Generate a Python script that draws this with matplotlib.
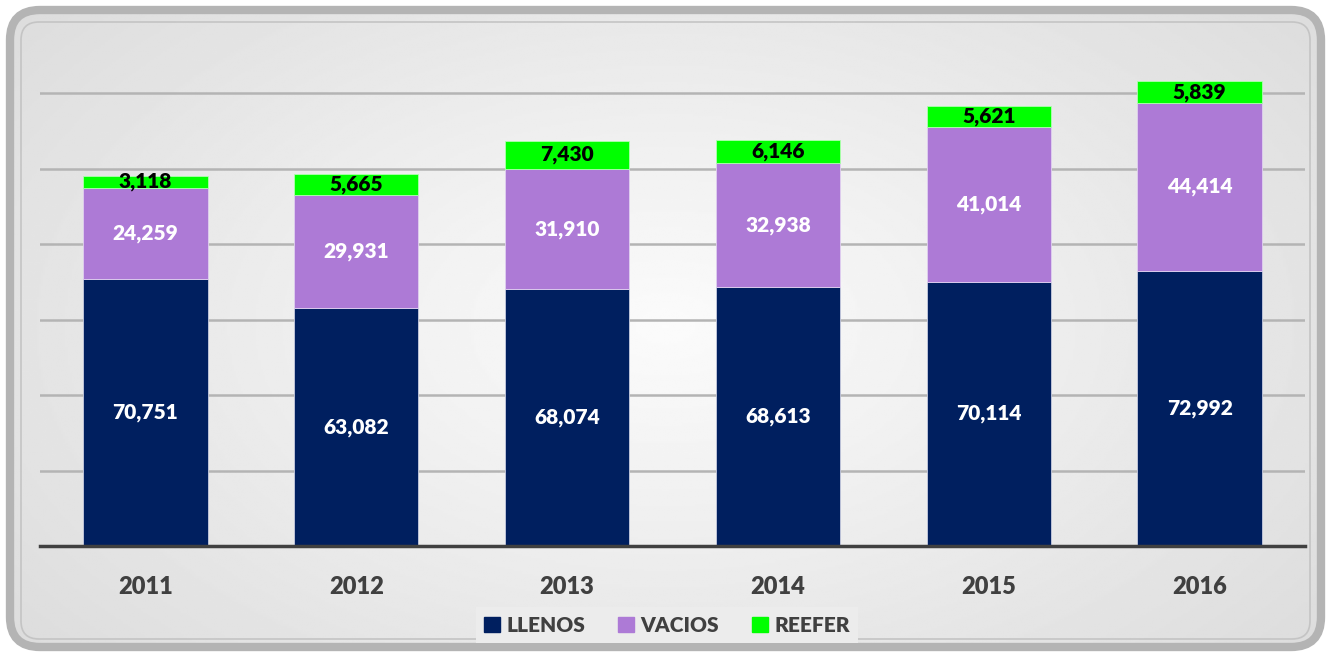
import numpy as np
import matplotlib.pyplot as plt
from matplotlib.patches import FancyBboxPatch, Patch

years = ["2011", "2012", "2013", "2014", "2015", "2016"]
llenos = [70751, 63082, 68074, 68613, 70114, 72992]
vacios = [24259, 29931, 31910, 32938, 41014, 44414]
reefer = [3118, 5665, 7430, 6146, 5621, 5839]

c_llenos = "#001f5f"
c_vacios = "#ad7ad6"
c_reefer = "#00ff00"
txt_gray = "#404040"

plt.rcParams["font.family"] = ["Lato", "DejaVu Sans"]
W, H = 1331, 653

fig = plt.figure(figsize=(W / 100, H / 100), dpi=100, facecolor="white")

# background with soft radial gradient, clipped to a rounded frame
bg = fig.add_axes([0, 0, 1, 1])
bg.set_xlim(0, W)
bg.set_ylim(0, H)
bg.axis("off")
yy, xx = np.mgrid[-1:1:300j, -1:1:600j]
r = np.sqrt((xx / 1.15) ** 2 + (yy / 1.4) ** 2)
im = bg.imshow(0.985 - 0.11 * np.clip(r, 0, 1.2), cmap="gray", vmin=0, vmax=1,
               aspect="auto", extent=[0, W, 0, H])
outer = FancyBboxPatch((10, 6), W - 20, H - 16,
                       boxstyle="round,pad=0,rounding_size=30",
                       facecolor="none", edgecolor="#b4b4b4", linewidth=6)
bg.add_patch(outer)
im.set_clip_path(outer)
inner = FancyBboxPatch((21, 14), W - 42, H - 36,
                       boxstyle="round,pad=0,rounding_size=18",
                       facecolor="none", edgecolor="#c4c4c4", linewidth=1.2)
bg.add_patch(inner)

ax = fig.add_axes([40 / W, 107 / H, 1265 / W, 528 / H])
ax.set_facecolor("none")

x = np.arange(len(years))
w = 0.59
bottom2 = np.array(llenos)
bottom3 = bottom2 + np.array(vacios)
ax.bar(x, llenos, w, color=c_llenos, edgecolor="#c8cce0", linewidth=0.6, zorder=3)
ax.bar(x, vacios, w, bottom=bottom2, color=c_vacios, edgecolor="#e0d0f0", linewidth=0.6, zorder=3)
ax.bar(x, reefer, w, bottom=bottom3, color=c_reefer, edgecolor="#b0ffb0", linewidth=0.6, zorder=3)

for i in range(len(years)):
    ax.text(x[i], llenos[i] / 2, f"{llenos[i]:,}", ha="center", va="center",
            color="white", fontsize=15, fontweight="heavy", zorder=4)
    ax.text(x[i], bottom2[i] + vacios[i] / 2, f"{vacios[i]:,}", ha="center", va="center",
            color="white", fontsize=15, fontweight="heavy", zorder=4)
    ax.text(x[i], bottom3[i] + reefer[i] / 2, f"{reefer[i]:,}", ha="center", va="center",
            color="black", fontsize=15, fontweight="heavy", zorder=4)

ax.set_xlim(-0.5, len(years) - 0.5)
ax.set_ylim(0, 140000)
ax.set_yticks(np.arange(20000, 140000, 20000))
ax.yaxis.grid(True, color="#b4b4b4", linewidth=1.8, zorder=0)
ax.tick_params(axis="y", left=False, labelleft=False)
ax.set_xticks(x)
ax.set_xticklabels(years, fontsize=17, fontweight="heavy", color=txt_gray)
ax.tick_params(axis="x", bottom=False, pad=18)
for s in ["top", "right", "left"]:
    ax.spines[s].set_visible(False)
ax.spines["bottom"].set_color("#404040")
ax.spines["bottom"].set_linewidth(2.5)
ax.spines["bottom"].set_zorder(5)

handles = [Patch(color=c_llenos, label="LLENOS"),
           Patch(color=c_vacios, label="VACIOS"),
           Patch(color=c_reefer, label="REEFER")]
leg = fig.legend(handles=handles, loc="center", bbox_to_anchor=(667 / W, 1 - 625 / H),
                 ncol=3, frameon=True, fancybox=False, facecolor="#ececec", edgecolor="none",
                 framealpha=1, handlelength=0.75, handleheight=0.75, handletextpad=0.3,
                 columnspacing=1.6, prop={"size": 15, "weight": "heavy"})
for t in leg.get_texts():
    t.set_color(txt_gray)

fig.savefig("out.png", dpi=100)
